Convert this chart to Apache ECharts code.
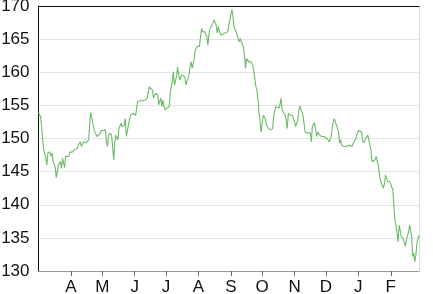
<!DOCTYPE html>
<html>
<head>
<meta charset="utf-8">
<script src="https://cdn.jsdelivr.net/npm/echarts@6/dist/echarts.min.js"></script>
<style>
html,body{margin:0;padding:0;background:#fff;}
#chart{width:433px;height:294px;}
</style>
</head>
<body>
<div id="chart"></div>
<script>
// Day offsets from 1 March, and the price read at each
const days = [0,2,3,4,5,6,7,8,9,11,12,13,14,16,17,18,19,21,22,23,25,26,27,29,30,32,34,35,37,38,40,41,43,45,46,48,49,50,52,53,54,56,57,59,60,62,64,65,66,67,69,70,72,73,74,76,77,79,80,82,83,84,86,87,88,90,91,93,94,95,97,99,102,104,106,107,109,110,112,114,115,117,118,119,121,122,123,125,126,128,129,130,131,132,133,135,136,137,138,140,141,142,144,145,146,147,149,150,151,152,154,155,156,157,158,159,161,162,163,164,166,167,168,170,171,172,173,175,176,178,179,181,182,183,185,186,187,188,189,190,192,193,194,195,196,197,198,199,200,201,203,204,205,206,208,209,210,211,213,214,215,217,218,219,220,222,224,225,227,228,230,231,232,233,234,236,237,238,239,241,242,243,245,246,248,249,250,251,253,254,255,257,258,260,261,262,264,265,266,267,269,270,271,273,274,276,277,278,280,281,282,283,284,285,287,288,289,290,292,293,295,297,298,300,301,303,304,306,307,309,310,311,313,314,315,316,318,319,320,322,323,324,325,326,327,328,330,331,332,334,335,336,337,339,340,341,342,343,344,345,346,347,349,350,351,352,354,355,356,357,358,359,360,361,362,363,364];
const prices = [153.9,153.3,151.8,149.8,148.3,148.0,147.0,146.0,147.8,148.0,147.3,147.8,146.5,145.7,144.1,145.0,146.0,146.5,145.5,147.0,145.6,147.3,147.5,147.3,148.0,147.9,148.3,148.0,148.5,149.0,149.5,148.8,149.5,149.3,149.5,149.8,152.3,153.9,152.3,151.5,151.0,150.3,150.0,150.8,151.2,151.2,151.3,149.3,148.8,150.5,150.8,150.3,146.8,149.5,150.5,149.8,151.5,152.3,151.8,152.0,153.0,150.3,152.0,152.8,153.5,153.8,153.8,153.5,154.8,155.6,155.7,155.7,155.8,156.1,157.8,157.5,157.3,156.1,156.8,156.6,155.1,156.1,154.8,155.8,154.3,154.0,154.6,154.8,156.8,158.8,160.1,158.1,158.3,159.3,160.8,158.8,159.1,159.6,159.8,159.3,158.1,158.1,159.6,160.8,161.6,160.6,162.1,163.4,163.6,163.9,163.9,165.4,166.6,166.1,165.9,166.1,165.4,164.1,165.6,166.6,167.1,167.4,167.9,167.1,165.9,166.9,166.1,165.6,165.9,165.9,165.9,166.1,166.4,167.9,169.5,168.4,166.9,167.1,166.1,165.9,164.6,165.1,164.6,164.6,163.9,162.6,160.6,162.1,161.8,161.6,161.6,161.3,161.1,160.1,157.8,157.3,155.8,153.8,151.0,152.3,153.5,153.0,152.0,151.8,151.5,151.3,151.5,153.5,154.8,154.6,154.6,155.1,156.1,154.3,154.6,153.5,152.8,151.5,153.8,153.5,153.8,153.5,152.5,151.8,152.8,154.3,154.9,154.6,153.5,152.3,151.0,150.8,150.9,150.9,149.5,151.8,152.4,152.3,150.3,151.0,150.5,150.8,150.3,150.3,150.3,150.0,149.8,149.5,150.3,151.8,152.5,153.0,152.5,152.3,151.0,149.3,149.8,149.0,148.8,149.0,148.8,149.0,148.8,148.8,149.3,149.8,150.0,151.2,151.4,151.0,149.8,149.3,150.0,150.3,150.5,149.8,148.3,146.5,146.3,146.8,147.3,147.5,146.0,144.7,143.7,143.5,142.5,143.2,144.5,143.5,143.7,143.5,143.2,142.2,139.7,137.7,136.9,135.7,134.4,136.9,136.2,135.2,134.9,134.9,133.7,134.7,135.9,136.9,136.9,135.2,132.2,132.7,131.4,132.4,134.2,134.4,135.4];
const monthStarts = [31,61,92,122,153,184,214,245,275,306,337];
const monthLabels = ['A','M','J','J','A','S','O','N','D','J','F'];
const yMin = 130, yMax = 170, yStep = 5;
const xMin = 0, xMax = 364;

const chart = echarts.init(document.getElementById('chart'), null, {renderer: 'canvas'});
const font = 'Liberation Sans, Arial, Helvetica, sans-serif';
chart.setOption({
  animation: false,
  backgroundColor: '#ffffff',
  grid: {left: 38.5, right: 14, top: 6, bottom: 23, containLabel: false, outerBoundsMode: 'none'},
  xAxis: [{
    type: 'value', min: xMin, max: xMax, position: 'bottom',
    axisLine: {show: true, onZero: false, lineStyle: {color: '#999', width: 1}},
    axisTick: {show: true, customValues: monthStarts, length: 5, lineStyle: {color: '#666'}},
    axisLabel: {show: true, customValues: monthStarts, margin: 8, fontSize: 17, color: '#111', fontFamily: font,
      formatter: function (v) { const i = monthStarts.indexOf(Math.round(v)); return i >= 0 ? monthLabels[i] : ''; }},
    splitLine: {show: false}
  }, {
    type: 'value', min: xMin, max: xMax, position: 'top',
    axisLine: {show: true, onZero: false, lineStyle: {color: '#111', width: 1}},
    axisTick: {show: false}, axisLabel: {show: false}, splitLine: {show: false}
  }],
  yAxis: [{
    type: 'value', min: yMin, max: yMax, interval: yStep, position: 'left',
    axisLine: {show: true, onZero: false, lineStyle: {color: '#111', width: 1}},
    axisTick: {show: false},
    axisLabel: {margin: 9, fontSize: 17, color: '#111', fontFamily: font},
    splitLine: {show: true, lineStyle: {color: '#e4e4e4', width: 1}}
  }, {
    type: 'value', min: yMin, max: yMax, interval: yStep, position: 'right',
    axisLine: {show: true, onZero: false, lineStyle: {color: '#dcdcdc', width: 1}},
    axisTick: {show: false}, axisLabel: {show: false}, splitLine: {show: false}
  }],
  series: [{
    type: 'line',
    xAxisIndex: 0, yAxisIndex: 0,
    data: days.map((d, i) => [d, prices[i]]),
    showSymbol: false,
    symbol: 'none',
    lineStyle: {color: '#6cbb66', width: 1.1},
    z: 3
  }]
});
</script>
</body>
</html>
